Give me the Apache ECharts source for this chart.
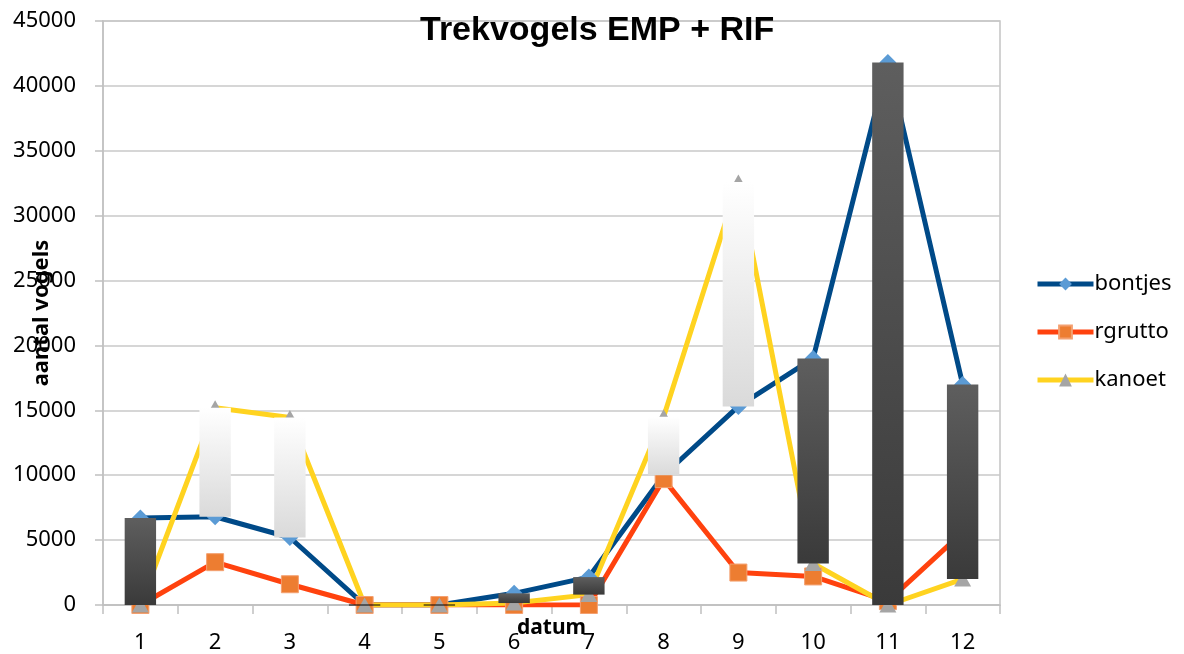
<!DOCTYPE html>
<html>
<head>
<meta charset="utf-8">
<title>Trekvogels EMP + RIF</title>
<script src="https://cdn.jsdelivr.net/npm/echarts@6/dist/echarts.min.js"></script>
<style>
    html, body {
        margin: 0;
        padding: 0;
        background: #fff;
    }

    #chart {
        width: 1184px;
        height: 654px;
    }
</style>
</head>
<body>
<div id="chart"></div>
<script>
// datum (x-as)
const datums = ['1', '2', '3', '4', '5', '6', '7', '8', '9', '10', '11', '12'];

// aantal vogels per soort
const bontjes = [6700, 6800, 5200, 0, 0, 900, 2150, 10000, 15300, 19000, 41800, 17000];
const rgrutto = [0, 3300, 1600, 0, 0, 0, 0, 9700, 2500, 2200, 300, 5600];
const kanoet = [0, 15200, 14450, 0, 0, 150, 800, 14500, 32600, 3200, 0, 2000];

// y-as
const yMin = 0;
const yMax = 45000;
const yStep = 5000;

const labelFont = '"Noto Sans", "Open Sans", sans-serif';

// up/down bars: van eerste reeks (bontjes) naar laatste reeks (kanoet)
const upDown = datums.map((d, i) => [i, bontjes[i], kanoet[i]]);

const upFill = new echarts.graphic.LinearGradient(0, 0, 0, 1, [
    { offset: 0, color: '#ffffff' },
    { offset: 1, color: '#dadada' }
]);
const downFill = new echarts.graphic.LinearGradient(0, 0, 0, 1, [
    { offset: 0, color: '#5e5e5e' },
    { offset: 1, color: '#3a3a3a' }
]);

const chart = echarts.init(document.getElementById('chart'));

chart.setOption({
    animation: false,
    title: {
        text: 'Trekvogels EMP + RIF',
        left: 420,
        top: 14,
        padding: 0,
        textStyle: {
            fontFamily: '"Liberation Sans", Arial, sans-serif',
            fontSize: 34,
            fontWeight: 'bold',
            color: '#000'
        }
    },
    legend: {
        orient: 'vertical',
        left: 1035,
        top: 273,
        padding: 0,
        itemWidth: 56,
        itemHeight: 16,
        itemGap: 26,
        data: ['bontjes', 'rgrutto', 'kanoet'],
        lineStyle: { width: 5 },
        textStyle: {
            fontFamily: labelFont,
            fontSize: 22,
            color: '#000',
            padding: [0, 0, 0, -4]
        }
    },
    grid: {
        left: 103,
        right: 184,
        top: 21,
        bottom: 49,
        outerBoundsMode: 'none',
        containLabel: false,
        show: true,
        borderColor: '#c4c4c4',
        borderWidth: 1.5
    },
    xAxis: {
        type: 'category',
        data: datums,
        boundaryGap: true,
        name: 'datum',
        nameLocation: 'middle',
        nameGap: 13,
        nameMoveOverlap: false,
        nameTextStyle: {
            fontFamily: labelFont,
            fontSize: 21,
            fontWeight: 'bold',
            color: '#000'
        },
        axisLine: { lineStyle: { color: '#c0c0c0', width: 1.5 } },
        axisTick: { show: true, length: 9, lineStyle: { color: '#c0c0c0', width: 1.5 } },
        axisLabel: {
            fontFamily: labelFont,
            fontSize: 22,
            color: '#000',
            margin: 27
        }
    },
    yAxis: {
        type: 'value',
        min: yMin,
        max: yMax,
        interval: yStep,
        name: 'aantal vogels',
        nameLocation: 'middle',
        nameGap: 50,
        nameMoveOverlap: false,
        nameTextStyle: {
            fontFamily: labelFont,
            fontSize: 22,
            fontWeight: 'bold',
            color: '#000'
        },
        axisLine: { show: true, lineStyle: { color: '#c0c0c0', width: 1.5 } },
        axisTick: { show: true, length: 8, lineStyle: { color: '#c0c0c0', width: 1.5 } },
        axisLabel: {
            fontFamily: labelFont,
            fontSize: 22,
            color: '#000',
            margin: 27,
            formatter: function (v) { return String(v); }
        },
        splitLine: { lineStyle: { color: '#c8c8c8', width: 1.5 } }
    },
    series: [
        {
            name: 'bontjes',
            type: 'line',
            data: bontjes,
            symbol: 'diamond',
            symbolSize: 17,
            lineStyle: { color: '#004a88', width: 5 },
            itemStyle: { color: '#5b9bd5' }
        },
        {
            name: 'rgrutto',
            type: 'line',
            data: rgrutto,
            symbol: 'rect',
            symbolSize: 17,
            lineStyle: { color: '#ff420e', width: 5 },
            itemStyle: { color: '#ed7d31', borderColor: '#f4a070', borderWidth: 1 }
        },
        {
            name: 'kanoet',
            type: 'line',
            data: kanoet,
            symbol: 'triangle',
            symbolSize: [17, 15],
            lineStyle: { color: '#ffd320', width: 5 },
            itemStyle: { color: '#a5a5a5' }
        },
        {
            name: 'updown',
            type: 'custom',
            z: 5,
            data: upDown,
            renderItem: function (params, api) {
                const idx = api.value(0);
                const open = api.coord([idx, api.value(1)]);
                const close = api.coord([idx, api.value(2)]);
                const w = api.size([1, 0])[0] * 0.42;
                const x = open[0] - w / 2;
                if (api.value(1) === api.value(2)) {
                    return {
                        type: 'line',
                        shape: { x1: x, y1: open[1], x2: x + w, y2: open[1] },
                        style: { stroke: '#000', lineWidth: 1 }
                    };
                }
                const up = api.value(2) > api.value(1);
                return {
                    type: 'rect',
                    shape: {
                        x: x,
                        y: Math.min(open[1], close[1]),
                        width: w,
                        height: Math.abs(open[1] - close[1])
                    },
                    style: { fill: up ? upFill : downFill }
                };
            }
        }
    ]
});
</script>
</body>
</html>
